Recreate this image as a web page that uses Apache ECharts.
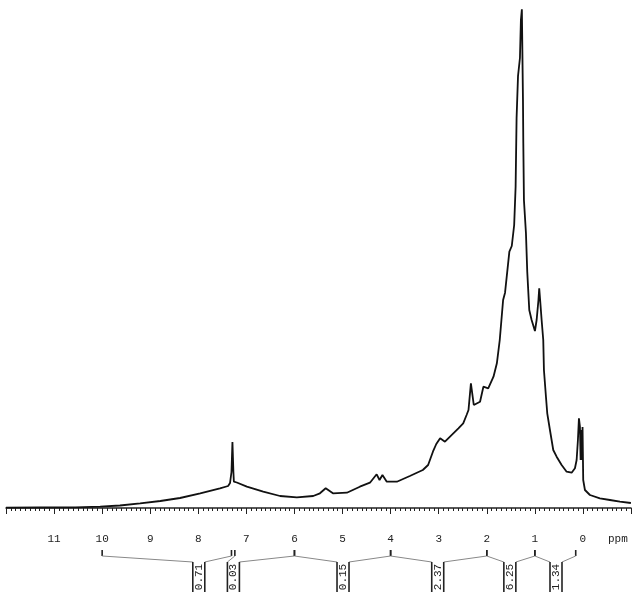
<!DOCTYPE html>
<html>
<head>
<meta charset="utf-8">
<script src="https://cdn.jsdelivr.net/npm/echarts@6/dist/echarts.min.js"></script>
<style>
  html, body { margin: 0; padding: 0; background: #fff; }
  #chart { width: 638px; height: 598px; }
</style>
</head>
<body>
<div id="chart"></div>
<script>
// spectrum trace: [ppm, intensity]
var spectrum = [
  [12.0, 0.3], [11.29, 0.5], [10.56, 0.7], [10.04, 1.3], [9.63, 2.5], [9.21, 4.7],
  [8.79, 7], [8.38, 10], [7.96, 14.7], [7.55, 19.7], [7.38, 22], [7.34, 25],
  [7.31, 36], [7.29, 66], [7.27, 36], [7.26, 26.3], [7.20, 25.5], [6.99, 21.3],
  [6.65, 16.3], [6.30, 12], [5.95, 10.7], [5.61, 12], [5.47, 14.7], [5.35, 19.7],
  [5.20, 14.7], [4.91, 15.3], [4.64, 21.3], [4.43, 25.3], [4.29, 33.7], [4.23, 28],
  [4.17, 33], [4.08, 26.3], [3.87, 26.3], [3.60, 32], [3.33, 38], [3.22, 43],
  [3.12, 56.3], [3.05, 64], [2.97, 69.7], [2.87, 66.3], [2.59, 79.7], [2.49, 84.7],
  [2.42, 93], [2.38, 98], [2.33, 124.7], [2.27, 103], [2.14, 106.3], [2.07, 121.3],
  [1.97, 119.7], [1.86, 131.3], [1.79, 144.7], [1.73, 168], [1.66, 208], [1.62, 215.3],
  [1.53, 256.3], [1.48, 262], [1.43, 283], [1.40, 321.3], [1.38, 389.7], [1.35, 432],
  [1.31, 450], [1.29, 488], [1.27, 498.7], [1.25, 498], [1.247, 408], [1.24, 364.7],
  [1.227, 308], [1.185, 274.7], [1.158, 236.3], [1.116, 198], [1.067, 188], [0.998, 177],
  [0.963, 188], [0.925, 208], [0.909, 219.7], [0.89, 208], [0.859, 188], [0.825, 168],
  [0.811, 138], [0.769, 111.3], [0.742, 94.7], [0.686, 78], [0.617, 58], [0.547, 51.3],
  [0.443, 43], [0.339, 36.3], [0.235, 35.3], [0.166, 39.7], [0.131, 48], [0.104, 68],
  [0.083, 89.7], [0.062, 81.3], [0.048, 48], [0.031, 78], [0.021, 48], [0.008, 81],
  [-0.006, 28], [-0.042, 18], [-0.146, 13], [-0.353, 9.7], [-0.561, 8], [-0.769, 6.3],
  [-0.998, 5]
];

// integral regions [from, to] in ppm, where each label sits, and the values
var integralRegions = [[10, 7.31], [7.24, 6], [6, 4], [4, 2], [2, 1], [1, 0.15]];
var integralLabelAt = [7.99, 7.27, 4.99, 3.02, 1.52, 0.56];
var integralValues = ['0.71', '0.03', '0.15', '2.37', '6.25', '1.34'];

var chartDom = document.getElementById('chart');
var myChart = echarts.init(chartDom);
var option;

var integralData = integralRegions.map(function (r, i) {
  return [r[0], r[1], integralLabelAt[i], i];
});

function renderIntegral(params, api) {
  var cs = params.coordSys;
  var base = cs.y + cs.height; // axis line
  var xa = api.coord([api.value(0), 0])[0];
  var xb = api.coord([api.value(1), 0])[0];
  var xc = api.coord([api.value(2), 0])[0];
  var idx = api.value(3);
  var half = 6;
  var tickTop = base + 25, tickBot = base + 31;
  var boxTop = base + 37, boxBot = base + 67;
  var thin = { stroke: '#888', lineWidth: 1 };
  var dark = { stroke: '#222', lineWidth: 1.6 };
  return {
    type: 'group',
    children: [
      { type: 'line', shape: { x1: xa, y1: tickTop, x2: xa, y2: tickBot }, style: dark },
      { type: 'line', shape: { x1: xb, y1: tickTop, x2: xb, y2: tickBot }, style: dark },
      { type: 'line', shape: { x1: xa, y1: tickBot, x2: xc - half, y2: boxTop }, style: thin },
      { type: 'line', shape: { x1: xc + half, y1: boxTop, x2: xb, y2: tickBot }, style: thin },
      { type: 'line', shape: { x1: xc - half, y1: boxTop, x2: xc - half, y2: boxBot }, style: dark },
      { type: 'line', shape: { x1: xc + half, y1: boxTop, x2: xc + half, y2: boxBot }, style: dark },
      {
        type: 'text',
        x: xc,
        y: (boxTop + boxBot) / 2,
        rotation: Math.PI / 2,
        style: {
          text: integralValues[idx],
          fill: '#222',
          fontSize: 11,
          fontFamily: 'Liberation Mono',
          align: 'center',
          verticalAlign: 'middle'
        }
      }
    ]
  };
}

option = {
  animation: false,
  grid: { left: 6, right: 7, top: 0, bottom: 73 },
  xAxis: {
    type: 'value',
    min: -1,
    max: 12,
    interval: 1,
    inverse: true,
    splitLine: { show: false },
    axisLine: { lineStyle: { color: '#222', width: 1.5 } },
    axisTick: { length: 6, lineStyle: { color: '#222', width: 1 } },
    minorTick: { show: true, splitNumber: 10, length: 3, lineStyle: { color: '#222', width: 1 } },
    axisLabel: {
      margin: 9,
      color: '#222',
      fontSize: 11,
      fontFamily: 'Liberation Mono',
      formatter: function (v) {
        return v < 0 || v > 11 ? '' : String(v);
      }
    }
  },
  yAxis: {
    type: 'value',
    min: -17,
    max: 508,
    show: false
  },
  graphic: [
    {
      type: 'text',
      left: 608,
      top: 534,
      style: { text: 'ppm', fill: '#222', fontSize: 11, fontFamily: 'Liberation Mono' }
    }
  ],
  series: [
    {
      name: 'spectrum',
      type: 'line',
      data: spectrum,
      showSymbol: false,
      lineStyle: { color: '#111', width: 1.8 },
      silent: true
    },
    {
      name: 'integrals',
      type: 'custom',
      data: integralData,
      renderItem: renderIntegral,
      clip: false,
      silent: true
    }
  ]
};

myChart.setOption(option);
</script>
</body>
</html>
